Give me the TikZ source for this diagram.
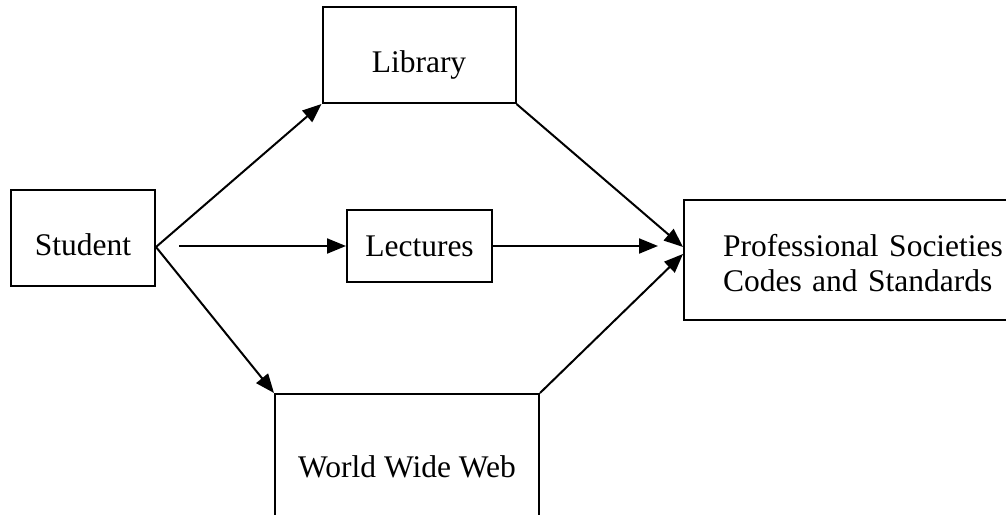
\documentclass[tikz,border=0pt]{standalone}
\usepackage{fontspec}
\setmainfont{Liberation Serif}
\usetikzlibrary{arrows.meta, positioning}

\begin{document}
\begin{tikzpicture}[
    x=1pt, y=-1pt,
    box/.style={rectangle, draw=black, line width=2pt, text centered, font=\fontsize{31.5}{35}\selectfont},
    arrow/.style={-{Triangle[length=19pt, width=15pt]}, line width=2pt}
]

\useasboundingbox (0,0) rectangle (1006,514);

% Student
\node[box, minimum width=144pt, minimum height=96pt, text height=34pt, text depth=0pt] (student) at (83,238) {Student};

% Library
\node[box, minimum width=193pt, minimum height=96pt, text height=34pt, text depth=0pt] (library) at (419,55) {Library};

% Lectures
\node[box, minimum width=145pt, minimum height=72pt] (lectures) at (419.5,246) {Lectures};

% World Wide Web (runs off the bottom)
\node[box, minimum width=264pt, minimum height=146pt] (www) at (407,467) {World Wide Web};

% Professional Societies (runs off the right)
\node[box, anchor=west, minimum height=120pt, text width=300pt, align=left, inner xsep=39pt,
      text height=21pt, text depth=28pt] (prof) at (683,260) {Professional Societies\\Codes and Standards};

% Arrows
\draw[arrow] ([yshift=-9pt]student.east) -- (library.south west);
\draw[arrow] ([xshift=23pt]student.east |- lectures.west) -- (lectures.west);
\draw[arrow] ([yshift=-9pt]student.east) -- (www.north west);

\draw[arrow] (library.south east) -- ([yshift=13pt]prof.west);
\draw[arrow] (lectures.east) -- ([xshift=-25pt]prof.west |- lectures.east);
\draw[arrow] (www.north east) -- ([yshift=6pt]prof.west);

\end{tikzpicture}
\end{document}
